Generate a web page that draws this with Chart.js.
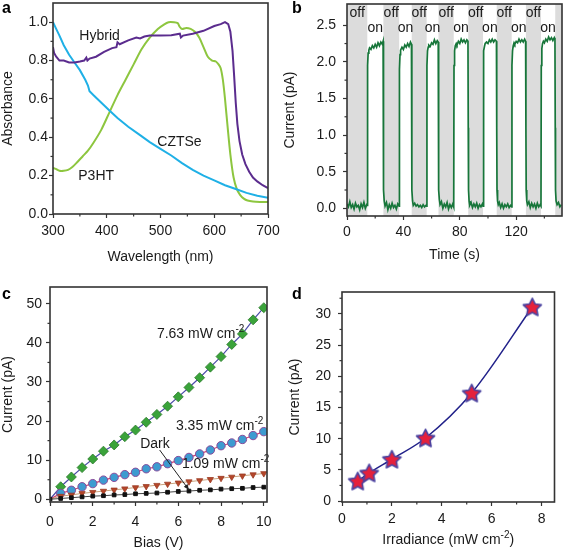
<!DOCTYPE html>
<html><head><meta charset="utf-8">
<script src="https://cdn.jsdelivr.net/npm/chart.js@4.4.0/dist/chart.umd.min.js"></script>
<style>
html,body{margin:0;padding:0;background:#fff;}
#wrap{position:relative;width:565px;height:552px;overflow:hidden;}
canvas{position:absolute;}
.lbl{position:absolute;font:bold 16px "Liberation Sans",Arial,sans-serif;color:#000;line-height:16px;}
</style></head><body>
<div id="wrap">
<canvas id="ca" width="282" height="276" style="left:0;top:0;width:282px;height:276px"></canvas>
<canvas id="cb" width="283" height="276" style="left:282px;top:0;width:283px;height:276px"></canvas>
<canvas id="cc" width="282" height="276" style="left:0;top:276px;width:282px;height:276px"></canvas>
<canvas id="cd" width="283" height="276" style="left:282px;top:276px;width:283px;height:276px"></canvas>
<div class="lbl" style="left:2px;top:0px">a</div>
<div class="lbl" style="left:292px;top:0px">b</div>
<div class="lbl" style="left:2px;top:286px">c</div>
<div class="lbl" style="left:292px;top:286px">d</div>
</div>
<script>
// ---------- Panel a: absorbance spectra ----------
const hybridNm  = [300,302,306,312,320,330,340,350,358,362,364,368,380,395,410,418,420,424,440,455,462,470,480,500,520,536,538,542,560,580,600,612,620,626,630,634,637,640,643,647,652,658,665,672,680,690,700];
const hybridAbs = [0.87,0.84,0.82,0.80,0.80,0.79,0.79,0.795,0.80,0.815,0.80,0.81,0.82,0.845,0.865,0.87,0.895,0.885,0.905,0.92,0.915,0.925,0.93,0.93,0.932,0.94,0.92,0.93,0.94,0.955,0.98,0.99,1.0,0.99,0.95,0.85,0.72,0.58,0.47,0.38,0.31,0.26,0.22,0.19,0.17,0.15,0.135];
const cztseNm  = [300,305,312,320,330,340,350,360,365,368,375,390,405,420,440,460,480,500,520,540,560,580,600,620,640,660,680,700];
const cztseAbs = [1.0,0.97,0.93,0.88,0.83,0.79,0.75,0.70,0.67,0.64,0.62,0.58,0.54,0.50,0.455,0.415,0.375,0.34,0.305,0.265,0.23,0.20,0.175,0.15,0.13,0.11,0.095,0.085];
const p3htNm  = [300,305,312,320,328,336,345,355,365,375,390,405,420,435,450,465,480,495,505,515,525,532,536,540,548,556,564,572,580,588,596,603,608,612,616,620,625,630,636,642,648,655,662,672,685,700];
const p3htAbs = [0.24,0.235,0.225,0.225,0.23,0.245,0.27,0.30,0.33,0.37,0.44,0.53,0.62,0.70,0.78,0.86,0.92,0.965,0.985,1.0,1.0,0.995,0.975,0.965,0.97,0.965,0.95,0.92,0.87,0.82,0.80,0.795,0.78,0.76,0.70,0.60,0.45,0.31,0.19,0.13,0.10,0.08,0.07,0.065,0.063,0.063];
const wavelengthTicks = [300,400,500,600,700];
const wavelengthMinor = [350,450,550,650];
const absTicks = [0,0.2,0.4,0.6,0.8,1.0];
const absMinor = [0.1,0.3,0.5,0.7,0.9];

// ---------- Panel b: on/off photocurrent ----------
const timeS = [
 0,1,2,3,4,5,6,7,8,9,10,11,12,13,14,
 14.4,14.6,15,15.5,16,17,18,19,20,21,22,23,24,25,25.6,
 25.8,26,26.4,27,28,29,30,31,32,33,34,35,36,37,
 37.2,37.6,38,39,40,41,42,43,44,45,45.7,
 45.9,46.1,46.5,47,48,49,50,51,52,53,54,55,56,56.5,
 56.7,57.1,57.6,58,59,60,61,62,63,64,64.7,
 64.9,65.1,65.5,66,67,68,69,70,71,72,73,74,75,75.7,
 75.9,76.3,76.8,77.5,78,79,80,81,82,83,84,85,85.8,
 86,86.2,86.6,87,88,89,90,91,92,93,94,95,96,96.5,
 96.7,97.1,97.6,98,99,100,101,102,103,104,105,106,
 106.2,106.4,106.8,107.3,108,109,110,111,112,113,114,115,116,116.8,
 117,117.4,117.9,118.5,119,120,121,122,123,124,125,126,126.7,
 126.9,127.1,127.5,128,129,130,131,132,133,134,135,136,137,137.6,
 137.8,138.2,138.7,139.3,140,141,142,143,144,145,146,147,147.5,
 147.7,147.9,148.3,149,150,151,152];
const currentPA = [
 0.06,0.02,0.09,0.01,0.05,-0.01,0.07,0.02,0.04,-0.02,0.06,0.01,0.08,0.00,0.05,
 0.04,1.95,2.12,2.16,2.19,2.17,2.22,2.19,2.24,2.20,2.26,2.22,2.27,2.24,2.28,
 1.2,0.25,0.10,0.03,0.08,-0.02,0.05,0.00,0.07,0.01,0.04,-0.01,0.06,0.03,
 1.9,2.10,2.16,2.20,2.17,2.23,2.20,2.25,2.21,2.27,2.24,
 1.1,0.25,0.10,0.04,0.07,0.03,0.05,0.02,0.04,0.01,0.05,0.02,0.04,0.03,
 1.95,2.15,2.20,2.23,2.21,2.26,2.24,2.30,2.25,2.29,2.27,
 1.1,0.25,0.12,0.05,0.09,0.00,0.06,0.02,0.08,-0.01,0.05,0.01,0.06,0.02,
 1.95,2.15,2.22,2.25,2.23,2.28,2.25,2.31,2.27,2.30,2.26,2.30,2.28,
 1.1,0.25,0.10,0.04,0.08,0.01,0.06,0.02,0.07,0.00,0.05,0.02,0.06,0.03,
 1.95,2.15,2.22,2.25,2.27,2.25,2.30,2.27,2.31,2.27,2.30,2.28,
 1.1,0.25,0.10,0.05,0.08,0.01,0.06,0.00,0.05,0.02,0.06,0.01,0.04,0.02,
 1.95,2.15,2.22,2.26,2.24,2.28,2.26,2.31,2.27,2.30,2.27,2.31,2.28,
 1.1,0.25,0.10,0.05,0.09,0.01,0.07,0.02,0.06,0.00,0.07,0.02,0.05,0.03,
 1.95,2.18,2.25,2.28,2.26,2.31,2.28,2.34,2.30,2.33,2.29,2.33,2.30,
 1.1,0.25,0.10,0.05,0.08,0.02,0.05];
const offStart = [0,25.8,45.9,64.9,86.0,106.2,126.9,147.7];
const offEnd   = [14.4,37.0,56.5,75.7,96.5,116.8,137.6,152.5];
const timeTicks = [0,40,80,120];
const timeMinor = [20,60,100,140];
const curTicksB = [0,0.5,1.0,1.5,2.0,2.5];
const curMinorB = [0.25,0.75,1.25,1.75,2.25];

// ---------- Panel c: I-V curves ----------
const biasV = [0,0.5,1,1.5,2,2.5,3,3.5,4,4.5,5,5.5,6,6.5,7,7.5,8,8.5,9,9.5,10];
const cur763 = [0,3.2,5.7,8.1,10.3,12.3,13.9,16.0,17.7,19.7,21.7,23.8,26.2,28.6,31.1,33.8,36.5,39.6,42.3,45.9,49.0];
const cur335 = [0,1.5,2.3,3.2,4.0,4.9,5.6,6.3,6.9,7.8,8.3,9.1,9.9,10.7,11.6,12.6,13.7,14.4,15.3,16.3,17.3];
const cur109 = [0,0.8,1.1,1.5,1.8,2.1,2.4,2.7,3.0,3.3,3.6,3.9,4.2,4.5,4.8,5.1,5.4,5.7,6.0,6.3,6.6];
const curDark = [0,0.2,0.4,0.6,0.8,0.9,1.1,1.2,1.4,1.5,1.6,1.8,2.0,2.1,2.3,2.4,2.6,2.7,2.8,3.0,3.1];
const biasTicks = [0,2,4,6,8,10];
const biasMinor = [1,3,5,7,9];
const curTicksC = [0,10,20,30,40,50];
const curMinorC = [5,15,25,35,45];

// ---------- Panel d: current vs irradiance ----------
const irradiance = [0.63,1.09,2.0,3.35,5.2,7.63];
const currentD = [3.2,4.5,6.7,10.1,17.3,31.1];
const irrTicks = [0,2,4,6,8];
const irrMinor = [1,3,5,7];
const curTicksD = [0,5,10,15,20,25,30];
const curMinorD = [2.5,7.5,12.5,17.5,22.5,27.5,32.5];

// ---------- helpers ----------
const FONT = '"Liberation Sans", Arial, sans-serif';
const INK = '#1a1a1a';
const pts = (xs, ys) => xs.map((x, i) => ({x: x, y: ys[i]}));

function axis(c) {
  return {
    type: 'linear', min: c.min, max: c.max,
    afterBuildTicks: s => { s.ticks = c.ticks.map(v => ({value: v})); },
    afterFit: s => {
      if (c.size != null) { if (s.isHorizontal()) s.height = c.size; else s.width = c.size; }
      s.paddingTop = 0; s.paddingBottom = 0; s.paddingLeft = 0; s.paddingRight = 0;
    },
    grid: {display: true, drawOnChartArea: false, drawTicks: true, tickLength: 4, tickWidth: 1.2, color: '#333'},
    border: {display: false},
    ticks: {color: INK, font: {family: FONT, size: 14}, padding: c.pad, autoSkip: false, maxRotation: 0,
            callback: c.fmt || (v => String(v))},
    title: {display: !!c.title, text: c.title || '', color: INK, font: {family: FONT, size: 14},
            padding: {top: c.tpad || 0, bottom: c.tpad || 0}}
  };
}

function framePlugin(xMinor, yMinor) {
  return {
    id: 'frame',
    afterDraw(chart) {
      const {ctx, chartArea: a} = chart;
      const xs = chart.scales.x, ys = chart.scales.y;
      ctx.save();
      ctx.strokeStyle = '#333';
      ctx.lineWidth = 1.2;
      xMinor.forEach(v => { const p = xs.getPixelForValue(v); ctx.beginPath(); ctx.moveTo(p, a.bottom); ctx.lineTo(p, a.bottom + 2.5); ctx.stroke(); });
      yMinor.forEach(v => { const p = ys.getPixelForValue(v); if (p < a.top) return; ctx.beginPath(); ctx.moveTo(a.left, p); ctx.lineTo(a.left - 2.5, p); ctx.stroke(); });
      ctx.lineWidth = 1.6;
      ctx.strokeRect(a.left, a.top, a.right - a.left, a.bottom - a.top);
      ctx.restore();
    }
  };
}

function drawRich(ctx, parts, x, y, align, size) {
  const fMain = size + 'px ' + FONT, fSup = Math.round(size * 0.7) + 'px ' + FONT;
  let w = 0;
  parts.forEach(p => { ctx.font = p.sup ? fSup : fMain; w += ctx.measureText(p.t).width; });
  let cx = align === 'center' ? x - w / 2 : x;
  ctx.textAlign = 'left'; ctx.textBaseline = 'alphabetic';
  const base = y + size * 0.36;
  parts.forEach(p => {
    ctx.font = p.sup ? fSup : fMain;
    ctx.fillText(p.t, cx, p.sup ? base - size * 0.42 : base);
    cx += ctx.measureText(p.t).width;
  });
}

function notesPlugin(items, arrows) {
  return {
    id: 'notes',
    afterDatasetsDraw(chart) {
      const {ctx} = chart; const xs = chart.scales.x, ys = chart.scales.y;
      ctx.save(); ctx.fillStyle = INK;
      items.forEach(it => drawRich(ctx, it.parts, xs.getPixelForValue(it.x), ys.getPixelForValue(it.y), it.align || 'left', 14));
      (arrows || []).forEach(ar => {
        const x1 = xs.getPixelForValue(ar.x1), y1 = ys.getPixelForValue(ar.y1);
        const x2 = xs.getPixelForValue(ar.x2), y2 = ys.getPixelForValue(ar.y2);
        ctx.strokeStyle = '#222'; ctx.lineWidth = 1;
        ctx.beginPath(); ctx.moveTo(x1, y1); ctx.lineTo(x2, y2); ctx.stroke();
        const ang = Math.atan2(y2 - y1, x2 - x1), L = 6;
        ctx.beginPath(); ctx.moveTo(x2, y2);
        ctx.lineTo(x2 - L * Math.cos(ang - 0.4), y2 - L * Math.sin(ang - 0.4));
        ctx.lineTo(x2 - L * Math.cos(ang + 0.4), y2 - L * Math.sin(ang + 0.4));
        ctx.closePath(); ctx.fillStyle = '#222'; ctx.fill();
      });
      ctx.restore();
    }
  };
}

function baseOptions(pad, x, y, extra) {
  return Object.assign({
    responsive: false, animation: false, devicePixelRatio: 1,
    layout: {padding: pad},
    plugins: {legend: {display: false}, tooltip: {enabled: false}},
    scales: {x: x, y: y}
  }, extra || {});
}

// ---------- Chart a ----------
new Chart(document.getElementById('ca'), {
  type: 'line',
  data: {datasets: [
    {data: pts(hybridNm, hybridAbs), borderColor: '#5b2c8e', borderWidth: 2, pointRadius: 0, tension: 0},
    {data: pts(cztseNm, cztseAbs), borderColor: '#1fb0e6', borderWidth: 2, pointRadius: 0, tension: 0},
    {data: pts(p3htNm, p3htAbs), borderColor: '#8dc63f', borderWidth: 2, pointRadius: 0, tension: 0.3}
  ]},
  options: baseOptions({top: 3, right: 14, left: 0, bottom: 0},
    axis({min: 300, max: 700, ticks: wavelengthTicks, size: 62, pad: 5, title: 'Wavelength (nm)', tpad: 10}),
    axis({min: 0, max: 1.1, ticks: absTicks, size: 53, pad: 1, title: 'Absorbance', fmt: v => v.toFixed(1)})),
  plugins: [framePlugin(wavelengthMinor, absMinor), notesPlugin([
    {parts: [{t: 'Hybrid'}], x: 349, y: 0.935},
    {parts: [{t: 'CZTSe'}], x: 494, y: 0.38},
    {parts: [{t: 'P3HT'}], x: 347, y: 0.205}
  ])]
});

// ---------- Chart b ----------
const shadePlugin = {
  id: 'shade',
  beforeDatasetsDraw(chart) {
    const {ctx, chartArea: a} = chart; const xs = chart.scales.x, ys = chart.scales.y;
    ctx.save(); ctx.fillStyle = '#dcdcdc';
    offStart.forEach((s, i) => {
      const x1 = Math.max(a.left, xs.getPixelForValue(s)), x2 = Math.min(a.right, xs.getPixelForValue(offEnd[i]));
      ctx.fillRect(x1, a.top, x2 - x1, a.bottom - a.top);
    });
    ctx.fillStyle = INK; ctx.font = '14px ' + FONT; ctx.textAlign = 'center'; ctx.textBaseline = 'middle';
    for (let i = 0; i < offStart.length - 1; i++) {
      ctx.fillText('off', xs.getPixelForValue((offStart[i] + offEnd[i]) / 2), ys.getPixelForValue(2.66));
      ctx.fillText('on', xs.getPixelForValue((offEnd[i] + offStart[i + 1]) / 2), ys.getPixelForValue(2.455));
    }
    ctx.restore();
  }
};
new Chart(document.getElementById('cb'), {
  type: 'line',
  data: {datasets: [
    {data: pts(timeS, currentPA), borderColor: '#17763a', borderWidth: 1.7, pointRadius: 0, tension: 0}
  ]},
  options: baseOptions({top: 4, right: 3, left: 0, bottom: 0},
    axis({min: 0, max: 152.5, ticks: timeTicks, size: 60, pad: 4, title: 'Time (s)', tpad: 12}),
    axis({min: -0.105, max: 2.79, ticks: curTicksB, size: 65, pad: 7, title: 'Current (pA)', fmt: v => v.toFixed(1)})),
  plugins: [shadePlugin, framePlugin(timeMinor, curMinorB)]
});

// ---------- Chart c ----------
const zeroHidden = r => ctx => ctx.dataIndex === 0 ? 0 : r;
new Chart(document.getElementById('cc'), {
  type: 'line',
  data: {datasets: [
    {data: pts(biasV, curDark), borderColor: '#444', borderWidth: 1, pointStyle: 'rect', pointRadius: 2.6,
     pointBackgroundColor: '#111', pointBorderColor: '#111', tension: 0},
    {data: pts(biasV, cur109), borderColor: '#c9a27c', borderWidth: 1, pointStyle: 'triangle', pointRotation: 180,
     pointRadius: zeroHidden(3.6), pointBackgroundColor: '#b5462a', pointBorderColor: '#9a3a22', pointBorderWidth: 0.8, tension: 0},
    {data: pts(biasV, cur335), borderColor: '#d0416c', borderWidth: 1.2, pointStyle: 'circle',
     pointRadius: zeroHidden(4.2), pointBackgroundColor: '#3d9bd0', pointBorderColor: '#8a4a9a', pointBorderWidth: 1, tension: 0},
    {data: pts(biasV, cur763), borderColor: '#4b4ba8', borderWidth: 1.2, pointStyle: 'rectRot',
     pointRadius: zeroHidden(5), pointBackgroundColor: '#3aa33a', pointBorderColor: '#2c7a2c', pointBorderWidth: 0.8, tension: 0}
  ]},
  options: baseOptions({top: 11, right: 15, left: 0, bottom: 0},
    axis({min: 0, max: 10.15, ticks: biasTicks, size: 50, pad: 8, title: 'Bias (V)', tpad: 0}),
    axis({min: -0.7, max: 54.3, ticks: curTicksC, size: 50, pad: 4, title: 'Current (pA)'})),
  plugins: [framePlugin(biasMinor, curMinorC), notesPlugin([
    {parts: [{t: '7.63 mW cm'}, {t: '-2', sup: true}], x: 5.0, y: 42.5},
    {parts: [{t: '3.35 mW cm'}, {t: '-2', sup: true}], x: 5.89, y: 19.0},
    {parts: [{t: 'Dark'}], x: 4.22, y: 14.3},
    {parts: [{t: '1.09 mW cm'}, {t: '-2', sup: true}], x: 6.17, y: 9.3}
  ], [{x1: 5.13, y1: 12.6, x2: 6.5, y2: 2.4}])]
});

// ---------- Chart d ----------
function makeStar(r, fill, stroke) {
  const s = Math.ceil(2 * r + 4);
  const c = document.createElement('canvas'); c.width = s; c.height = s;
  const g = c.getContext('2d'); g.translate(s / 2, s / 2 + 0.8);
  g.beginPath();
  for (let i = 0; i < 10; i++) {
    const rad = i % 2 ? r * 0.5 : r, a = -Math.PI / 2 + i * Math.PI / 5;
    g.lineTo(rad * Math.cos(a), rad * Math.sin(a));
  }
  g.closePath(); g.fillStyle = fill; g.fill();
  g.lineWidth = 1.6; g.strokeStyle = stroke; g.lineJoin = 'round'; g.stroke();
  return c;
}
const star = makeStar(9.5, '#e5213c', '#4b43a0');
const xTitleD = {
  id: 'xTitleD',
  afterDraw(chart) {
    const {ctx, chartArea: a} = chart;
    ctx.save(); ctx.fillStyle = INK;
    drawRich(ctx, [{t: 'Irradiance (mW cm'}, {t: '-2', sup: true}, {t: ')'}], (a.left + a.right) / 2, 262.5, 'center', 14);
    ctx.restore();
  }
};
new Chart(document.getElementById('cd'), {
  type: 'line',
  data: {datasets: [
    {data: pts(irradiance, currentD), borderColor: '#22228a', borderWidth: 1.5, pointStyle: star, pointRadius: 9,
     cubicInterpolationMode: 'monotone'}
  ]},
  options: baseOptions({top: 16, right: 7, left: 0, bottom: 0},
    axis({min: 0, max: 8.52, ticks: irrTicks, size: 50, pad: 5}),
    axis({min: -0.15, max: 33.5, ticks: curTicksD, size: 60, pad: 7, title: 'Current (pA)', tpad: 5})),
  plugins: [framePlugin(irrMinor, curMinorD), xTitleD]
});
</script>
</body></html>
